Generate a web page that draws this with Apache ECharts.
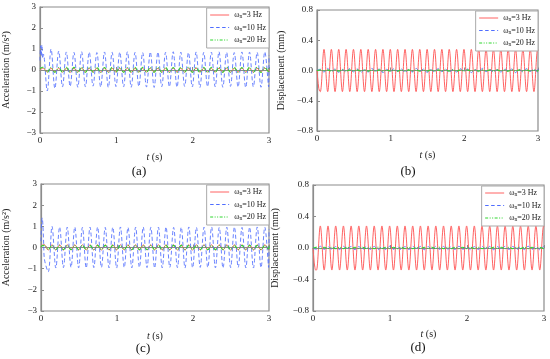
<!DOCTYPE html>
<html>
<head>
<meta charset="utf-8">
<script src="https://cdn.jsdelivr.net/npm/echarts@6/dist/echarts.min.js"></script>
<style>html,body{margin:0;padding:0;background:#fff}#c{width:550px;height:359px}</style>
</head>
<body>
<div id="c"></div>
<script>
// time samples (s): start transient + half-period extremes + end
const T = [0, 0.008, 0.016, 0.025, 0.035,
  0.045,0.095,0.145,0.195,0.245,0.295,0.345,0.395,0.445,0.495,
  0.545,0.595,0.645,0.695,0.745,0.795,0.845,0.895,0.945,0.995,
  1.045,1.095,1.145,1.195,1.245,1.295,1.345,1.395,1.445,1.495,
  1.545,1.595,1.645,1.695,1.745,1.795,1.845,1.895,1.945,1.995,
  2.045,2.095,2.145,2.195,2.245,2.295,2.345,2.395,2.445,2.495,
  2.545,2.595,2.645,2.695,2.745,2.795,2.845,2.895,2.945,2.995,
  3.0];

const seriesNames = ['ωn=3 Hz', 'ωn=10 Hz', 'ωn=20 Hz'];
const panelLabels = ['(a)', '(b)', '(c)', '(d)'];
const yNames = ['Acceleration (m/s²)', 'Displacement (mm)', 'Acceleration (m/s²)', 'Displacement (mm)'];
const xTicks = [0, 1, 2, 3];
const accTicks = [-3, -2, -1, 0, 1, 2, 3];
const dispTicks = [-0.8, -0.4, 0.0, 0.4, 0.8];

// (a) acceleration
const accA3 = [0, 0.02, 0.05, 0.07, 0.08,
  0.08,-0.10,0.08,-0.10,0.09,-0.10,0.08,-0.11,0.08,-0.10,
  0.09,-0.10,0.08,-0.10,0.08,-0.11,0.09,-0.10,0.08,-0.10,
  0.08,-0.10,0.09,-0.11,0.08,-0.10,0.08,-0.10,0.09,-0.10,
  0.08,-0.11,0.08,-0.10,0.09,-0.10,0.08,-0.10,0.08,-0.11,
  0.09,-0.10,0.08,-0.10,0.08,-0.10,0.09,-0.11,0.08,-0.10,
  0.08,-0.10,0.09,-0.10,0.08,-0.11,0.08,-0.10,0.09,-0.10,
  0.07];
const accA10 = [0.45, 1.15, 0.65, 1.2, 0.55,
  0.75,-1.00,1.00,-0.88,0.90,-0.80,0.86,-0.78,0.84,-0.82,
  0.87,-0.80,0.85,-0.77,0.83,-0.81,0.86,-0.83,0.84,-0.79,
  0.85,-0.80,0.87,-0.82,0.84,-0.78,0.83,-0.81,0.86,-0.83,
  0.85,-0.79,0.84,-0.80,0.87,-0.82,0.85,-0.78,0.83,-0.81,
  0.86,-0.83,0.84,-0.79,0.85,-0.80,0.87,-0.82,0.84,-0.78,
  0.83,-0.81,0.86,-0.84,0.85,-0.80,0.84,-0.82,0.86,-0.80,
  0.70];
const accA20 = [0.05, 0.08, 0.10, 0.12, 0.13,
  0.13,-0.11,0.13,-0.11,0.12,-0.11,0.13,-0.11,0.13,-0.12,
  0.12,-0.11,0.13,-0.11,0.13,-0.11,0.12,-0.12,0.13,-0.11,
  0.13,-0.11,0.12,-0.11,0.13,-0.12,0.13,-0.11,0.12,-0.11,
  0.13,-0.11,0.13,-0.12,0.12,-0.11,0.13,-0.11,0.13,-0.11,
  0.12,-0.12,0.13,-0.11,0.13,-0.11,0.12,-0.11,0.13,-0.12,
  0.13,-0.11,0.12,-0.11,0.13,-0.11,0.13,-0.12,0.12,-0.11,
  0.10];

// (b) displacement
const disB3 = [0, -0.09, -0.17, -0.24, -0.27,
  -0.28,0.28,-0.28,0.28,-0.28,0.28,-0.28,0.28,-0.28,0.28,
  -0.28,0.28,-0.28,0.28,-0.28,0.28,-0.28,0.28,-0.28,0.28,
  -0.28,0.28,-0.28,0.28,-0.28,0.28,-0.28,0.28,-0.28,0.28,
  -0.28,0.28,-0.28,0.28,-0.28,0.28,-0.28,0.28,-0.28,0.28,
  -0.28,0.28,-0.28,0.28,-0.28,0.28,-0.28,0.28,-0.28,0.28,
  -0.28,0.28,-0.28,0.28,-0.28,0.28,-0.28,0.28,-0.28,0.28,
  0.26];
const disB10 = [0, 0.004, 0.008, 0.012, 0.015,
  0.018,-0.02,0.028,-0.015,0.02,-0.025,0.015,-0.02,0.028,-0.018,
  0.02,-0.025,0.012,-0.02,0.027,-0.015,0.02,-0.028,0.015,-0.02,
  0.025,-0.012,0.02,-0.027,0.015,-0.02,0.028,-0.015,0.018,-0.025,
  0.012,-0.02,0.027,-0.015,0.02,-0.028,0.015,-0.02,0.025,-0.012,
  0.02,-0.027,0.015,-0.02,0.028,-0.015,0.018,-0.025,0.012,-0.02,
  0.027,-0.015,0.02,-0.028,0.015,-0.02,0.025,-0.012,0.02,-0.025,
  0.02];
const disB20 = [0, 0.002, 0.004, 0.006, 0.007,
  0.008,-0.008,0.008,-0.008,0.008,-0.008,0.008,-0.008,0.008,-0.008,
  0.008,-0.008,0.008,-0.008,0.008,-0.008,0.008,-0.008,0.008,-0.008,
  0.008,-0.008,0.008,-0.008,0.008,-0.008,0.008,-0.008,0.008,-0.008,
  0.008,-0.008,0.008,-0.008,0.008,-0.008,0.008,-0.008,0.008,-0.008,
  0.008,-0.008,0.008,-0.008,0.008,-0.008,0.008,-0.008,0.008,-0.008,
  0.008,-0.008,0.008,-0.008,0.008,-0.008,0.008,-0.008,0.008,-0.008,
  0.006];

// (c) acceleration
const accC3 = [0.05, 0.08, 0.11, 0.13, 0.13,
  0.13,-0.12,0.13,-0.12,0.13,-0.12,0.13,-0.12,0.13,-0.12,
  0.13,-0.12,0.13,-0.12,0.13,-0.12,0.13,-0.12,0.13,-0.12,
  0.13,-0.12,0.13,-0.12,0.13,-0.12,0.13,-0.12,0.13,-0.12,
  0.13,-0.12,0.13,-0.12,0.13,-0.12,0.13,-0.12,0.13,-0.12,
  0.13,-0.12,0.13,-0.12,0.13,-0.12,0.13,-0.12,0.13,-0.12,
  0.13,-0.12,0.13,-0.12,0.13,-0.12,0.13,-0.12,0.13,-0.12,
  0.11];
const accC10 = [0.3, 1.2, 1.4, 1.05, 0.2,
  -0.55,-1.15,1.00,-0.97,0.97,-0.95,0.96,-0.94,0.97,-0.96,
  0.95,-0.97,0.96,-0.95,0.97,-0.94,0.95,-0.96,0.96,-0.97,
  0.97,-0.95,0.95,-0.96,0.96,-0.94,0.97,-0.95,0.95,-0.97,
  0.96,-0.96,0.97,-0.94,0.95,-0.95,0.96,-0.97,0.97,-0.96,
  0.95,-0.94,0.96,-0.95,0.97,-0.96,0.95,-0.97,0.96,-0.95,
  0.97,-0.94,0.95,-0.96,0.96,-0.97,0.97,-0.95,0.96,-0.94,
  0.85];
const accC20 = [0.03, 0.06, 0.08, 0.09, 0.10,
  0.10,-0.10,0.10,-0.10,0.10,-0.10,0.10,-0.10,0.10,-0.10,
  0.10,-0.10,0.10,-0.10,0.10,-0.10,0.10,-0.10,0.10,-0.10,
  0.10,-0.10,0.10,-0.10,0.10,-0.10,0.10,-0.10,0.10,-0.10,
  0.10,-0.10,0.10,-0.10,0.10,-0.10,0.10,-0.10,0.10,-0.10,
  0.10,-0.10,0.10,-0.10,0.10,-0.10,0.10,-0.10,0.10,-0.10,
  0.10,-0.10,0.10,-0.10,0.10,-0.10,0.10,-0.10,0.10,-0.10,
  0.08];

// (d) displacement
const disD3 = [0, -0.1, -0.19, -0.25, -0.28,
  -0.28,0.28,-0.28,0.28,-0.28,0.28,-0.28,0.28,-0.28,0.28,
  -0.28,0.28,-0.28,0.28,-0.28,0.28,-0.28,0.28,-0.28,0.28,
  -0.28,0.28,-0.28,0.28,-0.28,0.28,-0.28,0.28,-0.28,0.28,
  -0.28,0.28,-0.28,0.28,-0.28,0.28,-0.28,0.28,-0.28,0.28,
  -0.28,0.28,-0.28,0.28,-0.28,0.28,-0.28,0.28,-0.28,0.28,
  -0.28,0.28,-0.28,0.28,-0.28,0.28,-0.28,0.28,-0.28,0.28,
  0.27];
const disD10 = [0, -0.004, -0.008, -0.012, -0.015,
  -0.02,0.022,-0.018,0.02,-0.022,0.018,-0.02,0.022,-0.018,0.02,
  -0.022,0.018,-0.02,0.022,-0.018,0.02,-0.022,0.018,-0.02,0.022,
  -0.018,0.02,-0.022,0.018,-0.02,0.022,-0.018,0.02,-0.022,0.018,
  -0.02,0.022,-0.018,0.02,-0.022,0.018,-0.02,0.022,-0.018,0.02,
  -0.022,0.018,-0.02,0.022,-0.018,0.02,-0.022,0.018,-0.02,0.022,
  -0.018,0.02,-0.022,0.018,-0.02,0.022,-0.018,0.02,-0.022,0.018,
  0.015];
const disD20 = [0, 0.002, 0.004, 0.006, 0.008,
  0.01,-0.008,0.01,-0.008,0.01,-0.008,0.01,-0.008,0.01,-0.008,
  0.01,-0.008,0.01,-0.008,0.01,-0.008,0.01,-0.008,0.01,-0.008,
  0.01,-0.008,0.01,-0.008,0.01,-0.008,0.01,-0.008,0.01,-0.008,
  0.01,-0.008,0.01,-0.008,0.01,-0.008,0.01,-0.008,0.01,-0.008,
  0.01,-0.008,0.01,-0.008,0.01,-0.008,0.01,-0.008,0.01,-0.008,
  0.01,-0.008,0.01,-0.008,0.01,-0.008,0.01,-0.008,0.01,-0.008,
  0.008];

const panelData = [
  [accA3, accA10, accA20],
  [disB3, disB10, disB20],
  [accC3, accC10, accC20],
  [disD3, disD10, disD20]
];

// ---- layout / style ----
const FONT = '"Liberation Serif","DejaVu Serif",serif';
const AXC = '#8c8c8c';
const colors = ['#ff6262', '#4f6dff', '#2ed62e'];
const widths = [1, 0.85, 1.1];
const lineTypes = ['solid', [4, 2.5], [4, 1.5, 1, 1.5, 1, 1.5]];
const legendTypes = ['solid', [3.5, 2.5], [3, 1.5, 1, 1.5, 1, 1.5]];
const grids = [
  {left: 37, top: 7, width: 232, height: 126},
  {left: 317, top: 10, width: 221, height: 121},
  {left: 37, top: 184, width: 232, height: 127},
  {left: 313, top: 185, width: 231, height: 126}
];
const yNameGap = [29, 31, 30, 33];
const xNameGap = [19, 19, 20, 18];
const legendPos = [
  {right: 281, top: 8},
  {right: 12, top: 11},
  {right: 281, top: 185},
  {right: 6, top: 186}
];
const labelPos = [[139, 172], [408, 172], [143, 349], [418, 348]];

const minus = s => String(s).replace('-', '−');

const option = {
  animation: false,
  backgroundColor: '#fff',
  grid: grids.map(g => Object.assign({show: true, borderColor: AXC, borderWidth: 1.2, backgroundColor: 'transparent'}, g)),
  xAxis: grids.map((g, i) => ({
    type: 'value', gridIndex: i, min: xTicks[0], max: xTicks[xTicks.length - 1], interval: 1,
    axisLine: {show: true, lineStyle: {color: AXC, width: 1.2}},
    axisTick: {show: true, inside: true, length: 3, lineStyle: {color: AXC}},
    axisLabel: {color: '#222', fontFamily: FONT, fontSize: 9, margin: 3},
    splitLine: {show: false},
    name: '{i|t} (s)', nameLocation: 'middle', nameGap: xNameGap[i],
    nameTextStyle: {color: '#222', fontFamily: FONT, fontSize: 10,
      rich: {i: {fontStyle: 'italic', fontFamily: FONT, fontSize: 10, color: '#222'}}}
  })),
  yAxis: grids.map((g, i) => {
    const ticks = (i % 2 === 0) ? accTicks : dispTicks;
    return {
      type: 'value', gridIndex: i, min: ticks[0], max: ticks[ticks.length - 1],
      interval: ticks[1] - ticks[0],
      axisLine: {show: true, lineStyle: {color: AXC, width: 1.2}},
      axisTick: {show: true, inside: true, length: 3, lineStyle: {color: AXC}},
      axisLabel: {color: '#222', fontFamily: FONT, fontSize: 9, margin: 4,
        formatter: v => (i % 2 === 0) ? minus(Math.round(v)) : minus((Math.round(v * 10) / 10).toFixed(1))},
      splitLine: {show: false},
      name: yNames[i], nameLocation: 'middle', nameGap: yNameGap[i],
      nameTextStyle: {color: '#222', fontFamily: FONT, fontSize: 10}
    };
  }),
  legend: legendPos.map(p => Object.assign({
    data: seriesNames.map((n, si) => ({name: n,
      lineStyle: {color: colors[si], width: 1, type: legendTypes[si]}})),
    orient: 'vertical', itemWidth: 19, itemHeight: 8, itemGap: 3.5,
    padding: [3, 3, 3, 3], borderColor: '#aaa', borderWidth: 1, backgroundColor: '#fff',
    selectedMode: false,
    itemStyle: {opacity: 0},
    formatter: n => '{w|ω}{s|n}{w|' + n.slice(2) + '}',
    textStyle: {fontFamily: FONT, fontSize: 8, color: '#222',
      rich: {w: {fontFamily: FONT, fontSize: 8, color: '#222'},
             s: {fontFamily: FONT, fontSize: 5.5, color: '#222', padding: [4, 0, 0, 0]}}}
  }, p)),
  graphic: labelPos.map((p, i) => ({
    type: 'text', x: p[0], y: p[1],
    style: {text: panelLabels[i], fill: '#111', font: '13px ' + FONT, textAlign: 'center', textVerticalAlign: 'middle'}
  })),
  series: []
};

panelData.forEach((arrs, pi) => {
  arrs.forEach((vals, si) => {
    option.series.push({
      type: 'line', name: seriesNames[si], xAxisIndex: pi, yAxisIndex: pi,
      data: T.map((t, k) => [t, vals[k]]),
      showSymbol: false, symbol: 'circle', smooth: 0.35,
      lineStyle: {color: colors[si], width: widths[si], type: lineTypes[si]},
      itemStyle: {color: colors[si]},
      z: 2 + si
    });
  });
});

const chart = echarts.init(document.getElementById('c'), null, {renderer: 'canvas'});
chart.setOption(option);
</script>
</body>
</html>
